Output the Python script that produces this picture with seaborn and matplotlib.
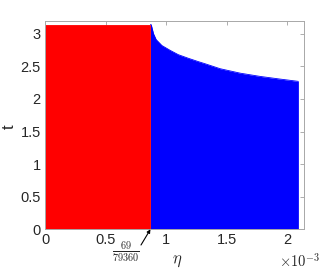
import numpy as np
import pandas as pd
import matplotlib
matplotlib.use('Agg')
import matplotlib.pyplot as plt
from matplotlib.ticker import FuncFormatter
import seaborn as sns

# boundary eta = 69/79360, red region up to t = pi
eta_crit = 69 / 79360
t_max = np.pi

# upper edge of the blue region (eta in 1e-3 units)
eta_curve = [0.8695, 0.876, 0.895, 0.917, 0.964, 1.033, 1.099, 1.181, 1.263,
             1.321, 1.445, 1.610, 1.775, 1.940, 2.090]
t_curve = [3.1416, 3.14, 3.00, 2.91, 2.82, 2.745, 2.68, 2.625, 2.574,
           2.54, 2.464, 2.396, 2.346, 2.305, 2.27]

xticks = [0, 0.5, 1, 1.5, 2]
yticks = [0, 0.5, 1, 1.5, 2, 2.5, 3]

sns.set_style("white")
plt.rcParams['font.family'] = ['Liberation Sans', 'DejaVu Sans']
plt.rcParams['mathtext.fontset'] = 'cm'

df = pd.DataFrame({'eta': np.array(eta_curve) * 1e-3, 't': t_curve})

fig = plt.figure(figsize=(3.36, 2.73), dpi=100)
ax = fig.add_axes([0.134, 0.160, 0.771, 0.764])

ax.fill_between(df['eta'], df['t'], 0, color='#0000ff', lw=0)
sns.lineplot(data=df, x='eta', y='t', ax=ax, color='#0000ff', lw=0.6)
ax.fill_between([0, eta_crit], [t_max, t_max], 0, facecolor='#ff0000',
                edgecolor='#ff0000', lw=0.6)

ax.set_xlim(0, 2.137e-3)
ax.set_ylim(0, 3.2)
ax.set_xticks([v * 1e-3 for v in xticks])
ax.xaxis.set_major_formatter(FuncFormatter(lambda v, p: '%g' % round(v * 1e3, 3)))
ax.set_yticks(yticks)
ax.yaxis.set_major_formatter(FuncFormatter(lambda v, p: '%g' % v))
ax.tick_params(direction='in', length=3, width=0.6, color='#a0a0a0',
               labelsize=10.5, top=True, right=True, bottom=True, left=True,
               pad=3, labelcolor='#262626')
for s in ax.spines.values():
    s.set_color('#a8a8a8')
    s.set_linewidth(0.7)

ax.set_xlabel('')
ax.set_ylabel('')
fig.text(9 / 336, 1 - 127 / 273, 't', rotation=90, fontsize=12,
         ha='center', va='center', color='#262626')
fig.text(177 / 336, 1 - 261 / 273, r'$\eta$', fontsize=12,
         ha='center', va='center', color='#262626')
fig.text(300 / 336, 1 - 262 / 273, r'$\times\mathsf{10^{-3}}$', fontsize=10.5,
         ha='center', va='center', color='#262626')

fig.text(126 / 336, 1 - 252 / 273, r'$\frac{69}{79360}$', fontsize=10.5,
         ha='center', va='center', color='#262626')
ax.annotate('', xy=(eta_crit, 0), xycoords='data',
            xytext=(141 / 336, 1 - 245 / 273), textcoords='figure fraction',
            annotation_clip=False,
            arrowprops=dict(arrowstyle='-|>', color='black', lw=0.8,
                            mutation_scale=5, shrinkA=0, shrinkB=0))

fig.savefig('out.png', dpi=100)
